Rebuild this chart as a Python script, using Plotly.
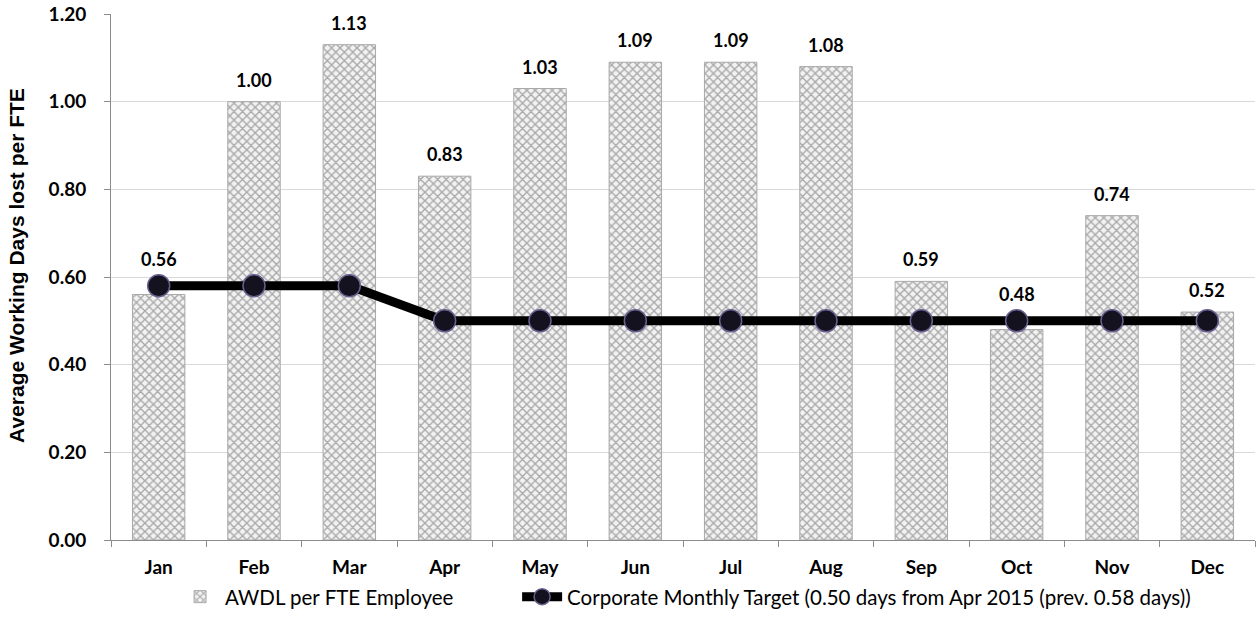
import plotly.graph_objects as go

months = ["Jan", "Feb", "Mar", "Apr", "May", "Jun", "Jul", "Aug", "Sep", "Oct", "Nov", "Dec"]
awdl = [0.56, 1.00, 1.13, 0.83, 1.03, 1.09, 1.09, 1.08, 0.59, 0.48, 0.74, 0.52]
target = [0.58, 0.58, 0.58, 0.50, 0.50, 0.50, 0.50, 0.50, 0.50, 0.50, 0.50, 0.50]
y_ticks = [0.0, 0.2, 0.4, 0.6, 0.8, 1.0, 1.2]

bar_name = "AWDL per FTE Employee"
line_name = "Corporate Monthly Target (0.50 days from Apr 2015 (prev. 0.58 days))"
y_title = "Average Working Days lost per FTE"

fig = go.Figure()

fig.add_trace(go.Bar(
    x=months, y=awdl, name=bar_name, legend="legend",
    width=0.55,
    marker=dict(
        color="#e0e0e0",
        line=dict(color="#a8a8a8", width=1),
        pattern=dict(shape="x", fgcolor="#5e5e5e", bgcolor="#f2f2f2",
                     size=6, solidity=0.4),
    ),
))

fig.add_trace(go.Scatter(
    x=months, y=target, name=line_name, mode="lines+markers", legend="legend2",
    line=dict(color="black", width=9),
    marker=dict(symbol="circle", size=22, color="#14121f",
                line=dict(color="#6a5f8f", width=1.5)),
))

# value labels above each bar; lifted where the target line passes over the bar top
for m, v, t in zip(months, awdl, target):
    shift = 23 if t > v else 9
    fig.add_annotation(x=m, y=v, text=f"{v:.2f}", showarrow=False,
                       yanchor="bottom", yshift=shift,
                       font=dict(family="Lato", size=18, color="black", weight="bold"))

# vertical axis title
fig.add_annotation(x=0, xref="paper", y=0.521, yref="paper", xshift=-94,
                   text=y_title, textangle=-90, showarrow=False,
                   xanchor="center", yanchor="middle",
                   font=dict(family="Liberation Sans", size=21, color="black", weight="bold"))

legend_font = dict(family="Lato", size=20.5, color="black")

fig.update_layout(
    width=1258, height=622,
    paper_bgcolor="white", plot_bgcolor="white",
    margin=dict(l=111, r=3, t=14, b=82),
    showlegend=True,
    legend=dict(orientation="h", x=0.056, y=-0.108, xanchor="left", yanchor="middle",
                font=legend_font, itemwidth=40),
    legend2=dict(orientation="h", x=0.355, y=-0.108, xanchor="left", yanchor="middle",
                 font=legend_font, itemwidth=40),
    xaxis=dict(
        range=[-0.5, len(months) - 0.5],
        showline=True, linecolor="#8c8c8c", linewidth=1,
        ticks="outside", tickson="boundaries", ticklen=6, tickcolor="#8c8c8c",
        ticklabelstandoff=10,
        tickfont=dict(family="Lato", size=19, color="black", weight="bold"),
        showgrid=False, automargin=False,
    ),
    yaxis=dict(
        range=[0, 1.2], tickvals=y_ticks, tickformat=".2f",
        showline=True, linecolor="#8c8c8c", linewidth=1,
        ticks="outside", ticklen=6, tickcolor="#8c8c8c", ticklabelstandoff=14,
        showgrid=True, gridcolor="#d9d9d9", gridwidth=1,
        zeroline=False, automargin=False,
        tickfont=dict(family="Lato", size=19, color="black", weight="bold"),
    ),
)

fig.write_html("out.html")
